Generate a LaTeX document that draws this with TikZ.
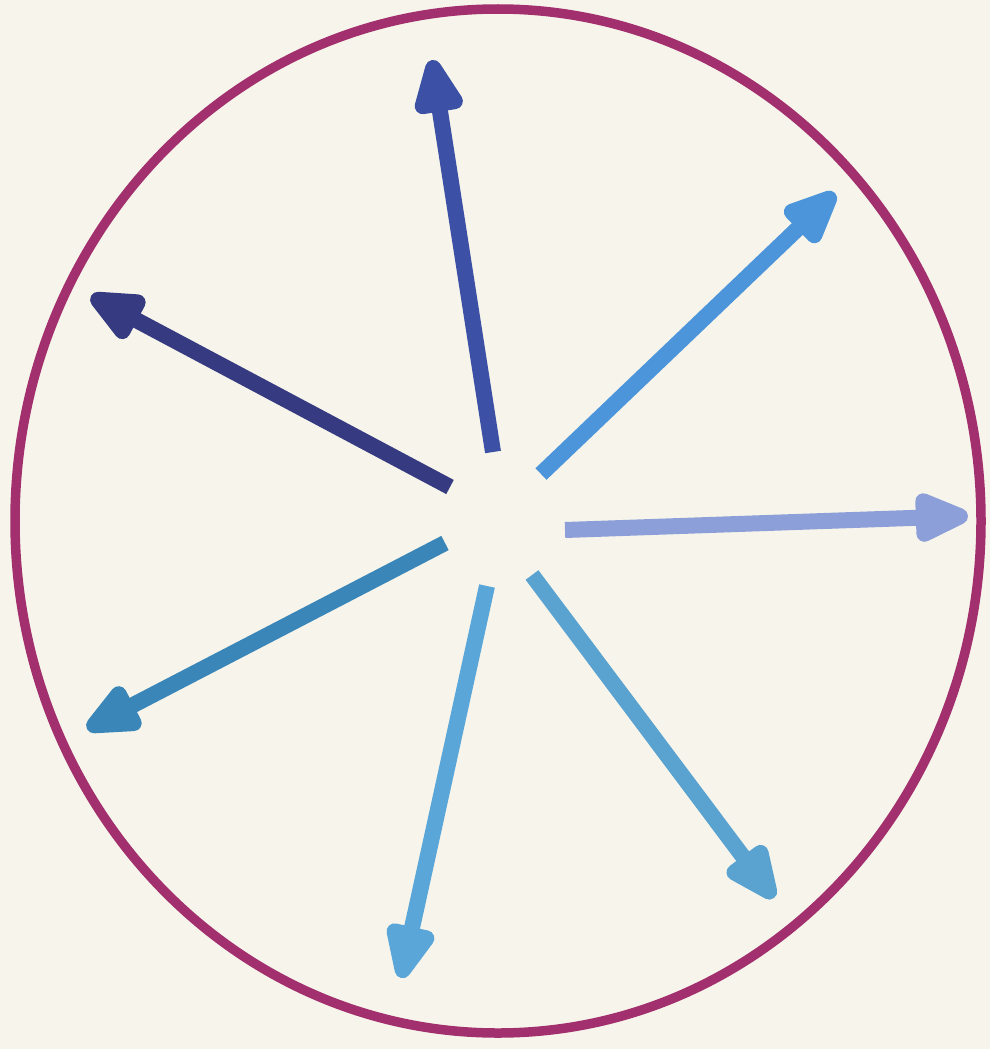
\documentclass[tikz,border=0pt]{standalone}
\usetikzlibrary{arrows.meta}
\definecolor{bgcream}{HTML}{F7F5EB}
\definecolor{ringcol}{HTML}{A3306E}
\definecolor{cUp}{HTML}{3C50A5}
\definecolor{cUL}{HTML}{363A80}
\definecolor{cUR}{HTML}{4D95DA}
\definecolor{cR}{HTML}{8C9FD8}
\definecolor{cLL}{HTML}{3A86B8}
\definecolor{cD}{HTML}{5AA6D8}
\definecolor{cLR}{HTML}{5AA2D0}
\begin{document}
\begin{tikzpicture}[x=1pt,y=-1pt,
  ray/.style={line width=16pt, -{Triangle[length=66pt,width=52pt,round]}}]
\fill[bgcream] (0,0) rectangle (990,1049);
\useasboundingbox (0,0) rectangle (990,1049);
\draw[ringcol, line width=9.5pt] (498,521) ellipse [x radius=483, y radius=512];
% tails and tips
\coordinate (tUp) at (493,452);  \coordinate (hUp) at (432,60);
\coordinate (tUL) at (450,487);  \coordinate (hUL) at (91,296);
\coordinate (tUR) at (541,474);  \coordinate (hUR) at (835,193);
\coordinate (tR)  at (565,530);  \coordinate (hR)  at (968,516);
\coordinate (tLL) at (445,543);  \coordinate (hLL) at (87,729);
\coordinate (tD)  at (487,586);  \coordinate (hD)  at (401,978);
\coordinate (tLR) at (532,575);  \coordinate (hLR) at (774,898);
\draw[ray, cUp] (tUp) -- (hUp);
\draw[ray, cUL] (tUL) -- (hUL);
\draw[ray, cUR] (tUR) -- (hUR);
\draw[ray, cR]  (tR)  -- (hR);
\draw[ray, cLL] (tLL) -- (hLL);
\draw[ray, cD]  (tD)  -- (hD);
\draw[ray, cLR] (tLR) -- (hLR);
\end{tikzpicture}
\end{document}
